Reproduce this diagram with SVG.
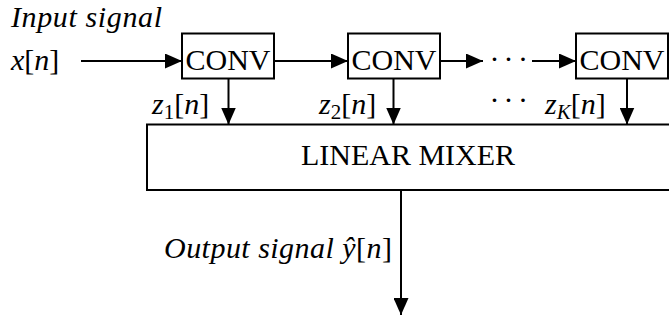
<svg xmlns="http://www.w3.org/2000/svg" width="669" height="322" viewBox="0 0 669 322">
<style>
  .box { fill: #fff; stroke: #000; stroke-width: 2; }
  .lbl { font-family: "Liberation Serif", "Times New Roman", serif; font-size: 30px; fill: #000; }
  .it { font-style: italic; }
  .sub { font-size: 21px; }
  .wire { stroke: #000; stroke-width: 2; fill: none; marker-end: url(#ah); }
</style>
<defs>
  <marker id="ah" markerUnits="userSpaceOnUse" markerWidth="17" markerHeight="15" refX="17" refY="7.5" orient="auto">
    <path d="M0,0 L17,7.5 L0,15 z" fill="#000"/>
  </marker>
</defs>
<rect width="669" height="322" fill="#fff"/>

<text class="lbl it" x="11" y="27" textLength="151" lengthAdjust="spacing">Input signal</text>

<g id="input">
  <text class="lbl" x="11" y="70"><tspan class="it">x</tspan>[<tspan class="it">n</tspan>]</text>
</g>

<g id="conv1">
  <rect class="box" x="182" y="33.5" width="92" height="45"/>
  <text class="lbl" x="228" y="70" text-anchor="middle">CONV</text>
</g>
<g id="conv2">
  <rect class="box" x="348" y="33.5" width="92" height="45"/>
  <text class="lbl" x="394" y="70" text-anchor="middle">CONV</text>
</g>
<g id="conv3">
  <rect class="box" x="576" y="33.5" width="92" height="45"/>
  <text class="lbl" x="622" y="70" text-anchor="middle">CONV</text>
</g>

<g id="mixer">
  <rect class="box" x="147" y="124.5" width="530" height="65.5"/>
  <text class="lbl" x="408" y="165" text-anchor="middle">LINEAR MIXER</text>
</g>

<g id="connectors">
  <line class="wire" x1="81" y1="61" x2="182" y2="61"/>
  <line class="wire" x1="274" y1="61" x2="348" y2="61"/>
  <line class="wire" x1="440" y1="61" x2="483" y2="61"/>
  <line class="wire" x1="532" y1="61" x2="576" y2="61"/>
  <line class="wire" x1="228.5" y1="78.5" x2="228.5" y2="124.5"/>
  <line class="wire" x1="393.5" y1="78.5" x2="393.5" y2="124.5"/>
  <line class="wire" x1="627" y1="78.5" x2="627" y2="124.5"/>
  <line class="wire" x1="401" y1="190" x2="401" y2="315"/>
</g>

<g id="labels">
  <text class="lbl" x="489.5 503.5 518" y="69">···</text>
  <text class="lbl" x="489.5 503.5 518" y="110">···</text>
  <text class="lbl" x="152" y="114"><tspan class="it">z</tspan><tspan class="sub" dy="5">1</tspan><tspan dy="-5">[</tspan><tspan class="it">n</tspan>]</text>
  <text class="lbl" x="319" y="114"><tspan class="it">z</tspan><tspan class="sub" dy="5">2</tspan><tspan dy="-5">[</tspan><tspan class="it">n</tspan>]</text>
  <text class="lbl" x="545" y="114"><tspan class="it">z</tspan><tspan class="sub it" dy="5">K</tspan><tspan dy="-5">[</tspan><tspan class="it">n</tspan>]</text>
  <text class="lbl" x="164" y="258" textLength="228" lengthAdjust="spacing"><tspan class="it">Output signal ŷ</tspan>[<tspan class="it">n</tspan>]</text>
</g>
</svg>
